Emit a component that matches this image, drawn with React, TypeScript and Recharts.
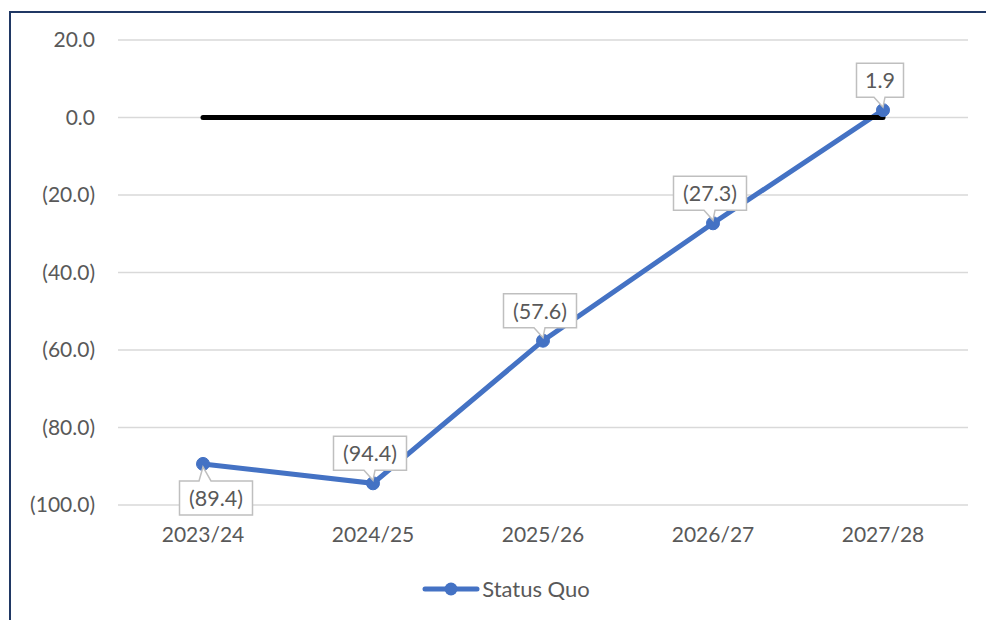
import React from "react";
import { LineChart, Line, XAxis, YAxis, CartesianGrid, Legend } from "recharts";

const categories = ["2023/24", "2024/25", "2025/26", "2026/27", "2027/28"];
const statusQuo = [-89.4, -94.4, -57.6, -27.3, 1.9];
const zeroLine = [0, 0, 0, 0, 0];
const yTicks = [20, 0, -20, -40, -60, -80, -100];
const labelBelow = [true, false, false, false, false];

const data = categories.map((c, i) => ({ cat: c, sq: statusQuo[i], zero: zeroLine[i] }));

const FONT = "Lato, 'Noto Sans', sans-serif";
const GRAY = "#595959";
const BLUE = "#4472C4";

const fmt = (v: number) => {
  const s = Math.abs(v).toFixed(1);
  return v < 0 ? `(${s})` : s;
};

const textW = (s: string) => {
  let w = 0;
  for (const ch of s) {
    if (ch === "(" || ch === ")") w += 7;
    else if (ch === ".") w += 5;
    else w += 12;
  }
  return w;
};

const CalloutLabel = (props: any) => {
  const { x, y, value, index } = props;
  if (x == null || y == null) return null;
  const txt = fmt(Number(value));
  const w = textW(txt) + 18;
  const h = 34;
  const below = labelBelow[index];
  if (below) {
    const cx = x + 13;
    const left = cx - w / 2;
    const right = cx + w / 2;
    const top = y + 17;
    const bottom = top + h;
    const d = `M${left},${top} H${x - 4} L${x},${y + 3} L${x + 8},${top} H${right} V${bottom} H${left} Z`;
    return (
      <g>
        <path d={d} fill="#fff" stroke="#BFBFBF" strokeWidth={1.5} />
        <text x={cx} y={(top + bottom) / 2} textAnchor="middle" dominantBaseline="central" fill={GRAY} fontSize={21.5} fontFamily={FONT}>
          {txt}
        </text>
      </g>
    );
  }
  const cx = x - 3;
  const left = cx - w / 2;
  const right = cx + w / 2;
  const bottom = y - 13;
  const top = bottom - h;
  const d = `M${left},${top} H${right} V${bottom} H${x + 2} L${x},${y - 3} L${x - 9},${bottom} H${left} Z`;
  return (
    <g>
      <path d={d} fill="#fff" stroke="#BFBFBF" strokeWidth={1.5} />
      <text x={cx} y={(top + bottom) / 2} textAnchor="middle" dominantBaseline="central" fill={GRAY} fontSize={21.5} fontFamily={FONT}>
        {txt}
      </text>
    </g>
  );
};

const LegendContent = () => (
  <div style={{ display: "flex", justifyContent: "center", alignItems: "center", fontFamily: FONT, fontSize: 22, color: GRAY, paddingLeft: 44 }}>
    <svg width={58} height={16} style={{ marginRight: 2 }}>
      <line x1={3} y1={8} x2={55} y2={8} stroke={BLUE} strokeWidth={5} strokeLinecap="round" />
      <circle cx={29} cy={8} r={6.5} fill={BLUE} />
    </svg>
    <span>Status Quo</span>
  </div>
);

export default function App() {
  return (
    <div style={{ position: "fixed", left: 0, top: 0, width: 986, height: 620, overflow: "hidden", background: "#fff" }}>
      <div
        style={{
          position: "absolute",
          left: 9,
          top: 11,
          width: 1100,
          height: 800,
          borderLeft: "2px solid #203864",
          borderTop: "2px solid #203864",
          boxSizing: "border-box",
        }}
      />
      <div style={{ position: "absolute", left: 0, top: 0 }}>
        <LineChart width={986} height={620} data={data} margin={{ top: 40, right: 18, left: 0, bottom: 5 }}>
          <CartesianGrid vertical={false} stroke="#D9D9D9" strokeWidth={1.5} />
          <XAxis
            dataKey="cat"
            axisLine={false}
            tickLine={false}
            tickSize={0}
            tickMargin={22}
            height={70}
            padding={{ left: 85, right: 85 }}
            tick={{ fill: GRAY, fontSize: 21, fontFamily: FONT }}
            interval={0}
          />
          <YAxis
            domain={[-100, 20]}
            ticks={yTicks}
            axisLine={false}
            tickLine={false}
            tickSize={0}
            tickMargin={23}
            width={118}
            tickFormatter={fmt}
            tick={{ fill: GRAY, fontSize: 21, fontFamily: FONT }}
          />
          <Legend verticalAlign="bottom" height={40} content={<LegendContent />} />
          <Line
            dataKey="sq"
            name="Status Quo"
            stroke={BLUE}
            strokeWidth={5}
            dot={{ r: 6.5, fill: BLUE, stroke: BLUE, strokeWidth: 1 }}
            activeDot={false}
            isAnimationActive={false}
            label={CalloutLabel}
          />
          <Line
            dataKey="zero"
            stroke="#000"
            strokeWidth={5}
            strokeLinecap="round"
            dot={false}
            activeDot={false}
            legendType="none"
            isAnimationActive={false}
          />
        </LineChart>
      </div>
    </div>
  );
}
